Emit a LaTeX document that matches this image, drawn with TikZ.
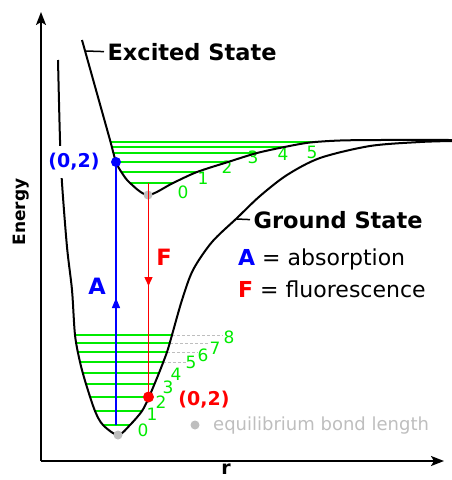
\documentclass[tikz,border=0pt]{standalone}
\usepackage{fontspec}
\setmainfont{DejaVu Sans}
\usepackage{xcolor}
\usepackage{tikz}
\usetikzlibrary{positioning, arrows.meta}

\definecolor{levelgreen}{RGB}{0,235,0}
\definecolor{dotgray}{RGB}{190,190,190}
\definecolor{absblue}{RGB}{0,0,255}
\definecolor{fluored}{RGB}{255,0,0}

% potential wells (pixel coordinates, y downwards)
\def\groundwell{plot[smooth] coordinates {(58,60) (60,140) (62,183) (67,247) (72,290) (75,335) (80,362) (86,384) (95,411) (103,425) (118,435) (130,425) (142,411) (149,397) (159,373) (167,352) (172,335) (182,300) (193,270) (212,242) (237,218) (260,196) (287,175) (320,158) (370,146) (420,142) (452,141)}}
\def\excitedwell{plot[smooth] coordinates {(82,40) (96,90) (110,140) (116,162) (122,173) (130,183) (148,195) (173,183) (197,172) (228,162) (257,153) (287,146.5) (310,142.5) (340,140.5) (380,140) (452,140)}}

\tikzset{
  curve/.style={line width=2pt, black},
  level/.style={line width=1.4pt, levelgreen},
  axis/.style={line width=2pt, -{Stealth[length=13pt, width=10pt, inset=3pt]}},
  transition/.style={line width=1.4pt},
  dot/.style={circle, inner sep=0pt, minimum size=9pt},
  levelnum/.style={levelgreen, inner sep=0pt, font=\fontsize{17}{20}\selectfont},
  statelabel/.style={font=\fontsize{22.5}{26}\selectfont\bfseries},
  pairlabel/.style={font=\fontsize{19}{22}\selectfont\bfseries},
  legend/.style={inner sep=0pt, font=\fontsize{22}{26}\selectfont},
}

\begin{document}
\begin{tikzpicture}[x=1pt, y=-1pt]
  \useasboundingbox (0,0) rectangle (452,480);

  % Vibrational levels of the excited state
  \begin{scope}
    \clip \excitedwell -- (452,0) -- (82,0) -- cycle;
    \foreach \lv in {142, 147, 153, 162, 172, 183}
      \draw[level] (100,\lv) -- (340,\lv);
  \end{scope}

  % Vibrational levels of the ground state
  \begin{scope}
    \clip \groundwell -- (452,0) -- (58,0) -- cycle;
    \foreach \lv in {335, 343, 352, 362, 373, 384, 397, 411, 425}
      \draw[level] (60,\lv) -- (200,\lv);
  \end{scope}
  \foreach \lv/\xa/\xb in {362/163/187, 352/167/198, 343/170/208, 335/172/223}
    \draw[dotgray, line width=1pt, dash pattern=on 3pt off 2pt] (\xa,\lv) -- (\xb,\lv);

  % Level numbers
  \foreach \n/\x/\y in {0/183/192, 1/203/178, 2/227/167, 3/253/157, 4/283/154, 5/312/152}
    \node[levelnum] (exnum\n) at (\x,\y) {\n};
  \foreach \n/\x/\y in {0/143/430, 1/152/414, 2/161/402, 3/168/387, 4/176/374, 5/191/362, 6/203/355, 7/215/348, 8/229/337}
    \node[levelnum] (gsnum\n) at (\x,\y) {\n};

  % Curves
  \draw[curve] \groundwell;
  \draw[curve] \excitedwell;

  % Axes
  \coordinate (origin) at (41,461);
  \coordinate (ytip) at (41,12);
  \coordinate (xtip) at (444,461);
  \draw[axis] (origin) -- (ytip);
  \draw[axis] (origin) -- (xtip);
  \node[font=\fontsize{17}{20}\selectfont\bfseries, rotate=90] (energy) at (21,212) {Energy};
  \node[font=\fontsize{19}{22}\selectfont\bfseries, anchor=north, inner sep=0pt] (rlabel) at (226,464) {r};

  % State labels
  \node[statelabel, anchor=base west] (exlabel) at (104,60) {Excited State};
  \coordinate (exfoot) at (86,51);
  \draw[line width=1.5pt] (exfoot) -- (exlabel.west);
  \node[statelabel, anchor=base west] (gslabel) at (250,228) {Ground State};
  \coordinate (gsfoot) at (237,219);
  \draw[line width=1.5pt] (gsfoot) -- (gslabel.west);

  % Equilibrium points
  \node[dot, fill=dotgray] (gsmin) at (118,435) {};
  \node[dot, fill=dotgray] (exmin) at (148,195) {};

  % Absorption
  \coordinate (abot) at (116,425);
  \coordinate (amid) at (116,298);
  \node[dot, fill=absblue, minimum size=10pt] (adot) at (116,162) {};
  \draw[transition, absblue] (abot) -- (adot.center);
  \draw[transition, absblue, -{Triangle[length=10pt, width=8pt]}] (abot) -- (amid);
  \node[pairlabel, absblue, fill=white, inner xsep=2pt, inner ysep=7pt] (apair) at (74,162) {(0,2)};
  \node[statelabel, absblue] (alabel) at (97,286) {A};

  % Fluorescence
  \coordinate (ftop) at (148.5,183);
  \coordinate (fmid) at (148.5,286);
  \node[dot, fill=fluored, minimum size=11pt] (fdot) at (148.5,397) {};
  \draw[transition, fluored] (ftop) -- (fdot.center);
  \draw[transition, fluored, -{Triangle[length=9pt, width=8pt]}] (ftop) -- (fmid);
  \node[pairlabel, fluored] (fpair) at (204,400) {(0,2)};
  \node[statelabel, fluored] (flabel) at (164,257) {F};

  % Legend
  \node[legend, anchor=base west] (leg1) at (238,265) {\textcolor{absblue}{\bfseries A} = absorption};
  \node[legend, anchor=base west] (leg2) at (238,297) {\textcolor{fluored}{\bfseries F} = fluorescence};
  \node[dot, fill=dotgray] (legdot) at (195,425) {};
  \node[inner sep=0pt, anchor=base west, dotgray, font=\fontsize{18}{21}\selectfont] (leg3) at (213,430) {equilibrium bond length};
\end{tikzpicture}
\end{document}
